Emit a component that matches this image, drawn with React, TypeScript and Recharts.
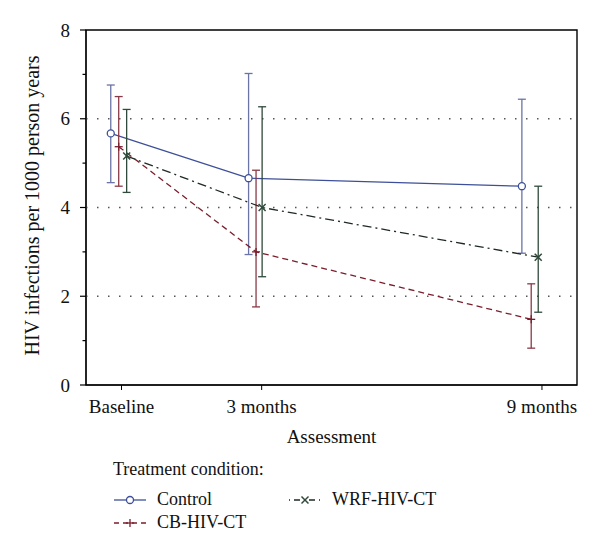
import {
  LineChart,
  Line,
  XAxis,
  YAxis,
  ErrorBar,
  ReferenceLine,
  ReferenceArea,
} from 'recharts'

// assessment points (months since baseline)
const categories = ['Baseline', '3 months', '9 months']
const months = [0, 3, 9]
const yTicks = [0, 1, 2, 3, 4, 5, 6, 7, 8]
const gridValues = [2, 4, 6]

// each group is drawn slightly offset from the tick
const controlX = [-0.23, 2.72, 8.57]
const controlMean = [5.67, 4.66, 4.48]
const controlLow = [4.56, 2.94, 2.97]
const controlHigh = [6.76, 7.02, 6.44]

const cbX = [-0.06, 2.88, 8.77]
const cbMean = [5.37, 3.0, 1.48]
const cbLow = [4.48, 1.76, 0.83]
const cbHigh = [6.5, 4.84, 2.28]

const wrfX = [0.11, 3.01, 8.92]
const wrfMean = [5.16, 4.0, 2.88]
const wrfLow = [4.34, 2.44, 1.64]
const wrfHigh = [6.21, 6.27, 4.48]

const FONT = '"Liberation Serif", "Times New Roman", serif'

function toRows(xs: number[], mean: number[], low: number[], high: number[]) {
  return xs.map((x, i) => ({
    x,
    y: mean[i],
    err: [mean[i] - low[i], high[i] - mean[i]],
  }))
}

type Marker = 'circle' | 'plus' | 'cross'

function MarkerShape({ cx, cy, marker, color }: { cx: number; cy: number; marker: Marker; color: string }) {
  if (marker === 'circle') {
    return <circle cx={cx} cy={cy} r={3.5} fill="#fff" stroke={color} strokeWidth={1.3} />
  }
  if (marker === 'plus') {
    return (
      <g stroke={color} strokeWidth={1.3}>
        <line x1={cx - 4} y1={cy} x2={cx + 4} y2={cy} />
        <line x1={cx} y1={cy - 4} x2={cx} y2={cy + 4} />
      </g>
    )
  }
  return (
    <g stroke={color} strokeWidth={1.5}>
      <line x1={cx - 3.5} y1={cy - 3.5} x2={cx + 3.5} y2={cy + 3.5} />
      <line x1={cx - 3.5} y1={cy + 3.5} x2={cx + 3.5} y2={cy - 3.5} />
    </g>
  )
}

const series = [
  {
    name: 'Control',
    line: '#3d4f98',
    bar: '#6a74a6',
    dash: undefined as string | undefined,
    marker: 'circle' as Marker,
    data: toRows(controlX, controlMean, controlLow, controlHigh),
  },
  {
    name: 'CB-HIV-CT',
    line: '#7a1e2c',
    bar: '#8a3a46',
    dash: '6 4',
    marker: 'plus' as Marker,
    data: toRows(cbX, cbMean, cbLow, cbHigh),
  },
  {
    name: 'WRF-HIV-CT',
    line: '#1f2a24',
    bar: '#2f4a3a',
    dash: '9 4 2 4',
    marker: 'cross' as Marker,
    data: toRows(wrfX, wrfMean, wrfLow, wrfHigh),
  },
]

function YTick(props: any) {
  const { x, y, payload } = props
  const v = payload.value as number
  const major = v % 2 === 0
  const axisX = x + 16
  return (
    <g>
      <line x1={axisX - (major ? 6 : 3.5)} y1={y} x2={axisX} y2={y} stroke="#000" strokeWidth={1.2} />
      {major && (
        <text x={x} y={y} dy="0.35em" textAnchor="end" fontSize={19} fontFamily={FONT} fill="#111">
          {v}
        </text>
      )}
    </g>
  )
}

function YTitle(props: any) {
  const { viewBox } = props
  const cx = viewBox.x + 6
  const cy = viewBox.y + viewBox.height / 2 - 2
  return (
    <text
      x={cx}
      y={cy}
      transform={`rotate(-90 ${cx} ${cy})`}
      textAnchor="middle"
      dominantBaseline="central"
      fontSize={20}
      fontFamily={FONT}
      fill="#111"
    >
      HIV infections per 1000 person years
    </text>
  )
}

function LegendSymbol({ s }: { s: (typeof series)[number] }) {
  return (
    <svg width={34} height={14} style={{ display: 'block' }}>
      <line x1={1} y1={7} x2={33} y2={7} stroke={s.line} strokeWidth={1.3} strokeDasharray={s.dash ? (s.marker === 'cross' ? '1 4 6 4' : '5 4') : undefined} />
      <MarkerShape cx={17} cy={7} marker={s.marker} color={s.marker === 'cross' ? s.bar : s.line} />
    </svg>
  )
}

export default function App() {
  return (
    <div style={{ position: 'absolute', left: 0, top: 0, width: 600, height: 559, background: '#fff' }}>
      <LineChart width={600} height={559} margin={{ top: 30, right: 23, left: 26, bottom: 134 }}>
        <ReferenceArea x1={-0.76} x2={9.75} y1={0} y2={8} fill="none" stroke="#000" strokeWidth={1.4} ifOverflow="extendDomain" />
        {gridValues.map((v) => (
          <ReferenceLine key={v} y={v} stroke="#555" strokeDasharray="1.5 9.5" strokeWidth={1.3} />
        ))}
        <XAxis
          type="number"
          dataKey="x"
          domain={[-0.76, 9.75]}
          ticks={months}
          allowDataOverflow
          tickFormatter={(v: number) => categories[months.indexOf(v)] ?? ''}
          tickSize={5}
          tickMargin={10}
          height={40}
          stroke="#000"
          tick={{ fontSize: 19, fontFamily: FONT, fill: '#111' }}
          label={{ value: 'Assessment', position: 'insideBottom', offset: -18, fontSize: 19, fontFamily: FONT, fill: '#111' }}
        />
        <YAxis
          type="number"
          domain={[0, 8]}
          ticks={yTicks}
          interval={0}
          width={60}
          stroke="#000"
          tickLine={false}
          tickSize={6}
          tickMargin={10}
          tick={<YTick />}
          label={<YTitle />}
        />
        {series.map((s) => (
          <Line
            key={s.name}
            data={s.data}
            dataKey="y"
            name={s.name}
            stroke={s.line}
            strokeWidth={1.3}
            strokeDasharray={s.dash}
            isAnimationActive={false}
            dot={(p: any) => <MarkerShape key={`${s.name}-${p.index}`} cx={p.cx} cy={p.cy} marker={s.marker} color={s.marker === 'cross' ? s.bar : s.line} />}
            activeDot={false}
          >
            <ErrorBar dataKey="err" direction="y" width={4} stroke={s.bar} strokeWidth={1.3} isAnimationActive={false} />
          </Line>
        ))}
      </LineChart>
      <div
        style={{
          position: 'absolute',
          left: 113,
          top: 458,
          fontFamily: FONT,
          fontSize: 18,
          color: '#111',
          lineHeight: '23px',
        }}
      >
        <div style={{ marginBottom: 7 }}>Treatment condition:</div>
        <div style={{ display: 'grid', gridAutoFlow: 'column', gridTemplateRows: 'repeat(2, 23px)', gridTemplateColumns: '175px auto' }}>
          {series.map((s) => (
            <div key={s.name} style={{ display: 'flex', alignItems: 'center' }}>
              <LegendSymbol s={s} />
              <span style={{ marginLeft: 10 }}>{s.name}</span>
            </div>
          ))}
        </div>
      </div>
    </div>
  )
}
